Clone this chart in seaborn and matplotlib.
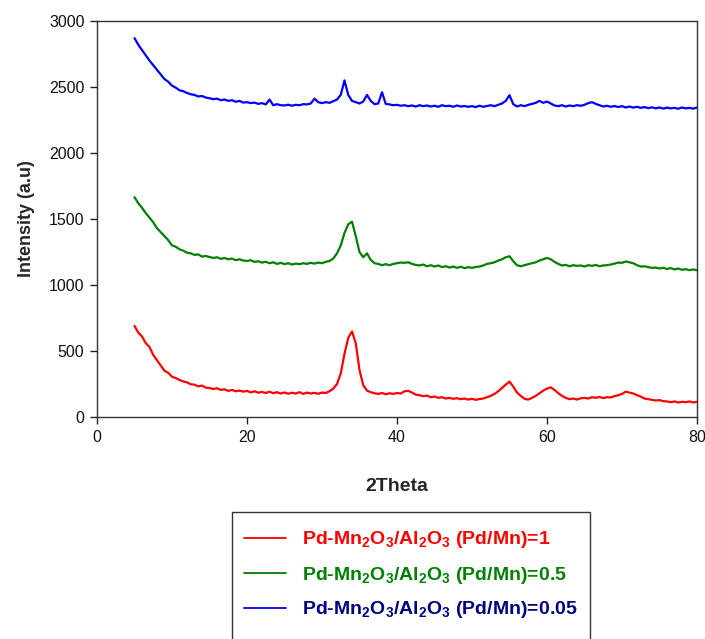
import numpy as np
import pandas as pd
import matplotlib
matplotlib.use("Agg")
import matplotlib.pyplot as plt
import seaborn as sns
from matplotlib.patches import Rectangle
from matplotlib.lines import Line2D

# 2Theta sampling positions (degrees)
two_theta = [
    5.0, 5.5, 6.0, 6.5, 7.0, 7.5, 8.0, 8.5, 9.0, 9.5,
    10.0, 10.5, 11.0, 11.5, 12.0, 12.5, 13.0, 13.5, 14.0, 14.5,
    15.0, 15.5, 16.0, 16.5, 17.0, 17.5, 18.0, 18.5, 19.0, 19.5,
    20.0, 20.5, 21.0, 21.5, 22.0, 22.5, 23.0, 23.5, 24.0, 24.5,
    25.0, 25.5, 26.0, 26.5, 27.0, 27.5, 28.0, 28.5, 29.0, 29.5,
    30.0, 30.5, 31.0, 31.5, 32.0, 32.5, 33.0, 33.5, 34.0, 34.5,
    35.0, 35.5, 36.0, 36.5, 37.0, 37.5, 38.0, 38.5, 39.0, 39.5,
    40.0, 40.5, 41.0, 41.5, 42.0, 42.5, 43.0, 43.5, 44.0, 44.5,
    45.0, 45.5, 46.0, 46.5, 47.0, 47.5, 48.0, 48.5, 49.0, 49.5,
    50.0, 50.5, 51.0, 51.5, 52.0, 52.5, 53.0, 53.5, 54.0, 54.5,
    55.0, 55.5, 56.0, 56.5, 57.0, 57.5, 58.0, 58.5, 59.0, 59.5,
    60.0, 60.5, 61.0, 61.5, 62.0, 62.5, 63.0, 63.5, 64.0, 64.5,
    65.0, 65.5, 66.0, 66.5, 67.0, 67.5, 68.0, 68.5, 69.0, 69.5,
    70.0, 70.5, 71.0, 71.5, 72.0, 72.5, 73.0, 73.5, 74.0, 74.5,
    75.0, 75.5, 76.0, 76.5, 77.0, 77.5, 78.0, 78.5, 79.0, 79.5,
    80.0,
]

# Pd/Mn = 1 (red)
intensity_pdmn_1 = [
    690, 640, 610, 560, 530, 470, 430, 390, 350, 335,
    305, 295, 280, 270, 262, 248, 245, 232, 238, 222,
    220, 212, 218, 205, 210, 198, 205, 195, 200, 192,
    198, 186, 195, 184, 190, 182, 192, 180, 188, 178,
    186, 176, 184, 178, 188, 175, 185, 178, 183, 176,
    185, 182, 195, 215, 250, 330, 480, 600, 648, 560,
    355, 240, 200, 188, 180, 175, 182, 172, 180, 175,
    182, 178, 195, 198, 185, 170, 165, 158, 162, 150,
    155, 145, 150, 140, 145, 138, 142, 135, 140, 132,
    138, 130, 136, 140, 150, 160, 175, 195, 220, 245,
    268, 230, 185, 160, 138, 132, 145, 160, 180, 200,
    215, 225, 205, 180, 160, 145, 135, 140, 132, 142,
    145, 140, 150, 145, 152, 143, 150, 148, 158, 165,
    175, 192, 185, 178, 165, 155, 140, 135, 130, 125,
    128, 120, 118, 112, 118, 110, 115, 112, 118, 110,
    115,
]

# Pd/Mn = 0.5 (green)
intensity_pdmn_05 = [
    1665, 1620, 1585, 1545, 1510, 1475, 1430, 1400, 1370, 1340,
    1300, 1290, 1270, 1260, 1245, 1240, 1228, 1232, 1215, 1220,
    1212, 1205, 1210, 1198, 1205, 1195, 1200, 1188, 1195, 1185,
    1182, 1188, 1175, 1180, 1170, 1176, 1165, 1172, 1160, 1168,
    1158, 1165, 1155, 1162, 1158, 1165, 1160, 1168, 1162, 1170,
    1165, 1175, 1182, 1200, 1240, 1300, 1395, 1460, 1480, 1370,
    1250, 1210, 1240, 1190, 1165, 1160, 1150, 1158, 1150, 1160,
    1165, 1170, 1168, 1172, 1160, 1152, 1148, 1155, 1142, 1150,
    1140, 1148, 1136, 1142, 1132, 1140, 1130, 1138, 1128, 1135,
    1130, 1136, 1140, 1148, 1160, 1165, 1172, 1185, 1195, 1210,
    1218, 1180, 1150, 1142, 1150, 1158, 1165, 1172, 1185, 1195,
    1205, 1195, 1175, 1160, 1148, 1152, 1142, 1150, 1145, 1148,
    1140, 1150, 1145, 1152, 1142, 1148, 1150, 1155, 1162, 1170,
    1168, 1178, 1172, 1165, 1150, 1140, 1142, 1135, 1130, 1132,
    1125, 1130, 1122, 1128, 1118, 1125, 1115, 1120, 1112, 1118,
    1112,
]

# Pd/Mn = 0.05 (blue)
intensity_pdmn_005 = [
    2870, 2820, 2780, 2740, 2700, 2665, 2630, 2595, 2560, 2540,
    2510, 2495, 2475, 2468, 2455, 2445, 2440, 2428, 2432, 2420,
    2415, 2408, 2412, 2400, 2405, 2395, 2400, 2388, 2395, 2382,
    2385, 2378, 2382, 2372, 2378, 2368, 2405, 2362, 2370, 2362,
    2360, 2366, 2358, 2365, 2362, 2370, 2368, 2375, 2412, 2385,
    2378, 2385, 2380, 2392, 2405, 2440, 2550, 2440, 2395, 2385,
    2375, 2390, 2440, 2395, 2370, 2375, 2460, 2372, 2368, 2362,
    2365, 2358, 2362, 2355, 2360, 2352, 2362, 2355, 2360, 2352,
    2358, 2350, 2362, 2355, 2358, 2350, 2360, 2352, 2356, 2350,
    2355, 2348, 2358, 2350, 2356, 2362, 2355, 2365, 2375, 2395,
    2438, 2370, 2352, 2362, 2355, 2365, 2372, 2380, 2395, 2380,
    2390, 2375, 2360, 2355, 2362, 2352, 2360, 2355, 2362, 2358,
    2365, 2378, 2385, 2372, 2362, 2352, 2358, 2350, 2356, 2348,
    2355, 2345, 2352, 2344, 2350, 2342, 2348, 2340, 2346, 2338,
    2345, 2336, 2344, 2338, 2342, 2335, 2345, 2338, 2342, 2336,
    2345,
]

series_labels = [
    r"Pd-Mn$_2$O$_3$/Al$_2$O$_3$ (Pd/Mn)=1",
    r"Pd-Mn$_2$O$_3$/Al$_2$O$_3$ (Pd/Mn)=0.5",
    r"Pd-Mn$_2$O$_3$/Al$_2$O$_3$ (Pd/Mn)=0.05",
]
line_colors = ["#ff0000", "#008000", "#0000ff"]
text_colors = ["#ff0000", "#008000", "#000080"]

x_ticks = [0, 20, 40, 60, 80]
y_ticks = [0, 500, 1000, 1500, 2000, 2500, 3000]

frames = []
for lab, vals in zip(series_labels, [intensity_pdmn_1, intensity_pdmn_05, intensity_pdmn_005]):
    frames.append(pd.DataFrame({"2Theta": two_theta, "Intensity": vals, "Sample": lab}))
df = pd.concat(frames, ignore_index=True)

sns.set_theme(style="white")
plt.rcParams["font.family"] = ["Liberation Sans", "DejaVu Sans"]
plt.rcParams["mathtext.fontset"] = "custom"
plt.rcParams["mathtext.rm"] = "Liberation Sans:bold"
plt.rcParams["mathtext.default"] = "rm"

fig = plt.figure(figsize=(7.05, 6.39), dpi=100)
ax = fig.add_axes([97 / 705, 1 - 417 / 639, 600 / 705, 396 / 639])

sns.lineplot(data=df, x="2Theta", y="Intensity", hue="Sample",
             palette=dict(zip(series_labels, line_colors)), linewidth=1.6,
             legend=False, ax=ax, estimator=None, sort=False)

ax.set_xlim(0, 80)
ax.set_ylim(0, 3000)
ax.set_xticks(x_ticks)
ax.set_yticks(y_ticks)
ax.tick_params(axis="both", which="both", direction="out", length=5, width=1,
               color="#222222", labelsize=11.5, labelcolor="#111111",
               bottom=True, left=True, top=False, right=False, pad=4)
for s in ax.spines.values():
    s.set_color("#333333")
    s.set_linewidth(1.0)
ax.set_xlabel("2Theta", fontsize=14, fontweight="bold", labelpad=24)
ax.set_ylabel("Intensity (a.u)", fontsize=13, fontweight="bold", labelpad=10)

# Legend box (extends past the bottom edge as in the reference)
box = Rectangle((232 / 705, -0.05), (590 - 232) / 705, (0.05 + 1 - 512 / 639),
                transform=fig.transFigure, facecolor="white", edgecolor="#333333",
                linewidth=1.0, clip_on=False)
fig.patches.append(box)

handles = [Line2D([0], [0], color=c, linewidth=1.3) for c in line_colors]
leg = fig.legend(handles, series_labels, loc="upper left",
                 bbox_to_anchor=(226 / 705, 1 - 512 / 639), frameon=False,
                 prop={"family": "Liberation Sans", "weight": "bold", "size": 14},
                 handlelength=2.2, handletextpad=0.8, labelspacing=0.72)
for t, c in zip(leg.get_texts(), text_colors):
    t.set_color(c)

fig.savefig("out.png", dpi=100)
